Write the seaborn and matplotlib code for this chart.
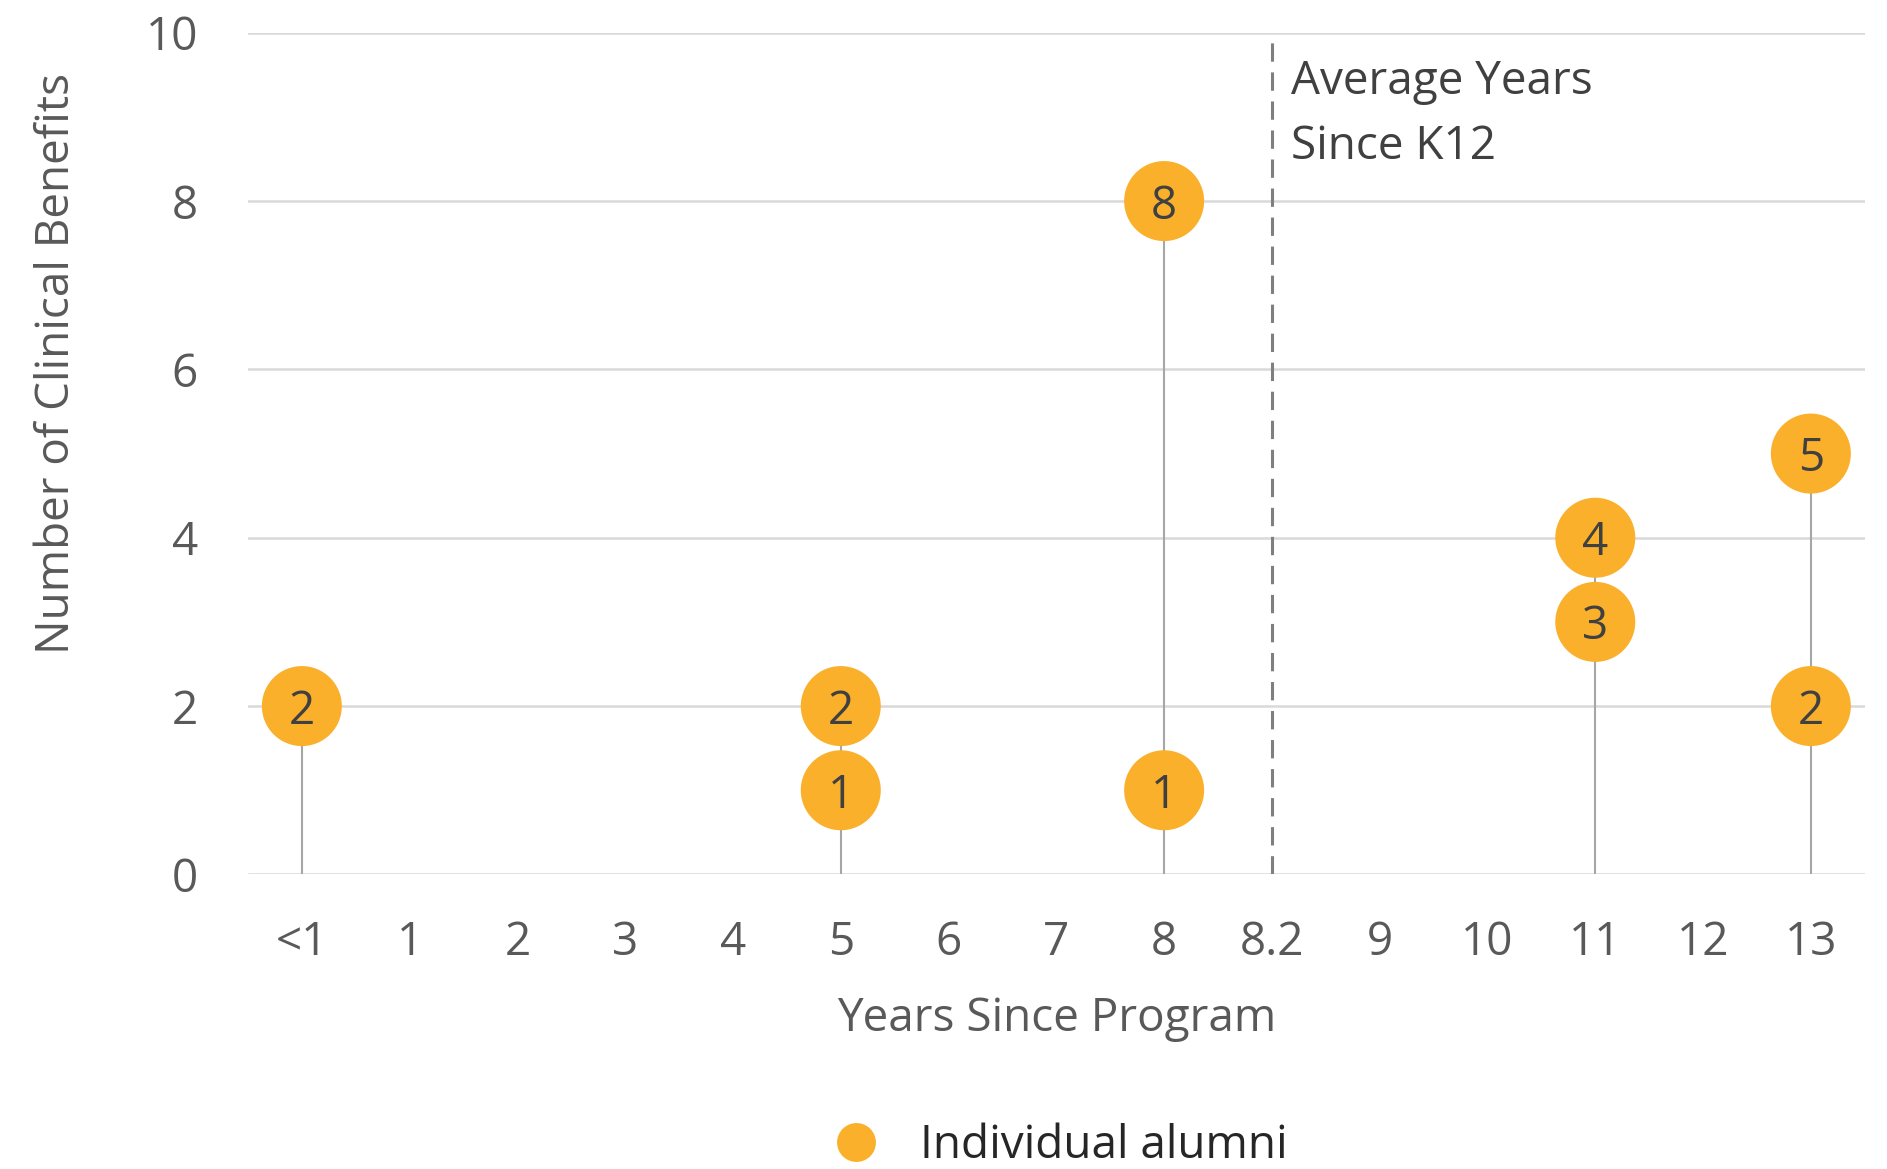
import matplotlib
matplotlib.use("Agg")
import matplotlib.pyplot as plt
import seaborn as sns
import pandas as pd
from matplotlib.lines import Line2D

# ---- data ----
categories = ["<1", "1", "2", "3", "4", "5", "6", "7", "8", "8.2", "9", "10", "11", "12", "13"]
alumni_years = ["<1", "5", "5", "8", "8", "11", "11", "13", "13"]
alumni_benefits = [2, 2, 1, 8, 1, 4, 3, 5, 2]
average_label = "8.2"
y_ticks = [0, 2, 4, 6, 8, 10]

sns.set_theme(style="white")
plt.rcParams["font.family"] = ["Open Sans", "DejaVu Sans"]

FS = 33
ORANGE = "#FBB02B"
TICK_C = "#595959"
DARK = "#404040"

df = pd.DataFrame({
    "pos": [categories.index(c) for c in alumni_years],
    "benefits": alumni_benefits,
})

fig = plt.figure(figsize=(18.87, 11.69), dpi=100)
ax = fig.add_axes([0.1314, 0.252, 0.8568, 0.720])

# gridlines
for yv in y_ticks:
    ax.axhline(yv, color="#D9D9D9", lw=1.8, zorder=0)

# stems
stems = df.groupby("pos")["benefits"].max()
ax.vlines(stems.index, 0, stems.values, color="#A6A6A6", lw=1.5, zorder=1)

# average line
avg_pos = categories.index(average_label)
ax.vlines([avg_pos], 0, 10, color="#7F7F7F", lw=2.2, linestyles=(0, (6, 3.5)), zorder=1)

sns.scatterplot(data=df, x="pos", y="benefits", s=3318, color=ORANGE,
                edgecolor="none", linewidth=0, zorder=3, ax=ax, legend=False)

for xp, yv in zip(df["pos"], df["benefits"]):
    ax.text(xp, yv, str(yv), ha="center", va="center_baseline", fontsize=FS,
            color=DARK, zorder=4)

ax.text(avg_pos + 0.18, 9.476, "Average Years", ha="left", va="center_baseline",
        fontsize=FS, color=DARK)
ax.text(avg_pos + 0.18, 8.713, "Since K12", ha="left", va="center_baseline",
        fontsize=FS, color=DARK)

ax.set_xlim(-0.5, len(categories) - 0.5)
ax.set_ylim(0, 10)
ax.set_xticks(range(len(categories)))
ax.set_xticklabels(categories)
ax.set_yticks(y_ticks)
ax.set_yticklabels([str(v) for v in y_ticks])
ax.tick_params(axis="x", length=0, pad=33, labelsize=FS, labelcolor=TICK_C)
ax.tick_params(axis="y", length=0, pad=36, labelsize=FS, labelcolor=TICK_C)
for sp in ax.spines.values():
    sp.set_visible(False)
ax.grid(False)

ax.set_xlabel("Years Since Program", fontsize=FS, color=TICK_C)
ax.xaxis.set_label_coords(0.5, -0.1443)
ax.set_ylabel("")
fig.text(57 / 1887, 1 - 363 / 1169, "Number of Clinical Benefits", rotation=90,
         ha="center", va="center", fontsize=FS, color=TICK_C)

handle = Line2D([], [], marker="o", linestyle="none", markersize=28,
                markerfacecolor=ORANGE, markeredgecolor="none")
fig.legend([handle], ["Individual alumni"], loc="center",
           bbox_to_anchor=(1060 / 1887, 1 - 1146 / 1169), frameon=False,
           fontsize=FS, labelcolor="#262626", handletextpad=0.9,
           borderpad=0, handlelength=1.0)

fig.savefig("out.png", dpi=100)
